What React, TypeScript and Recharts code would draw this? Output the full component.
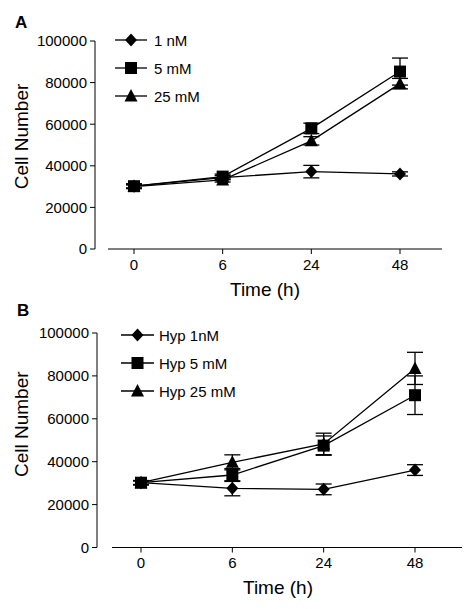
import { LineChart, Line, XAxis, YAxis, ErrorBar, Legend } from 'recharts';

const timeLabels = ['0', '6', '24', '48'];
const yTicks = [0, 20000, 40000, 60000, 80000, 100000];

// panel A
const seriesNamesA = ['1 nM', '5 mM', '25 mM'];
const aLow = [30200, 34300, 37200, 36100];
const aLowErr = [800, 1000, 3000, 1000];
const aMid = [30200, 34800, 58000, 85300];
const aMidErr = [1200, 1200, 2500, 6500];
const aHigh = [30000, 33200, 52000, 79500];
const aHighErr = [800, 1000, 2000, 2500];

// panel B
const seriesNamesB = ['Hyp 1nM', 'Hyp 5 mM', 'Hyp 25 mM'];
const bLow = [30200, 27600, 27100, 36100];
const bLowErr = [800, 3500, 2500, 2500];
const bMid = [30200, 33800, 47500, 71000];
const bMidErr = [1000, 3000, 4500, 9000];
const bHigh = [30200, 39700, 48300, 83500];
const bHighErr = [1000, 3500, 5000, 7500];

const FONT = '"Liberation Sans", Arial, sans-serif';
const SHAPES = ['diamond', 'square', 'triangle'];

const buildRows = (low: number[], lowErr: number[], mid: number[], midErr: number[], high: number[], highErr: number[]) =>
  timeLabels.map((t, i) => ({
    time: t,
    s0: low[i], e0: lowErr[i],
    s1: mid[i], e1: midErr[i],
    s2: high[i], e2: highErr[i],
  }));

const dataA = buildRows(aLow, aLowErr, aMid, aMidErr, aHigh, aHighErr);
const dataB = buildRows(bLow, bLowErr, bMid, bMidErr, bHigh, bHighErr);

const marker = (shape: string, cx: number, cy: number, key?: string) => {
  if (shape === 'diamond') {
    return <path key={key} d={`M${cx},${cy - 6.5}L${cx + 6},${cy}L${cx},${cy + 6.5}L${cx - 6},${cy}Z`} fill="#000" />;
  }
  if (shape === 'square') {
    return <rect key={key} x={cx - 6} y={cy - 6} width={12} height={12} fill="#000" />;
  }
  return <path key={key} d={`M${cx},${cy - 7}L${cx + 6.5},${cy + 5.5}L${cx - 6.5},${cy + 5.5}Z`} fill="#000" />;
};

const dotFor = (shape: string) => (props: any) => {
  const { cx, cy, index } = props;
  if (cx == null || cy == null) return <g key={`d-${index}`} />;
  return marker(shape, cx, cy, `${shape}-${index}`);
};

// legend drawn in series order from the names list
const renderLegend = (names: string[], lineWidth: number, gap: number) => () => (
  <div style={{ fontFamily: FONT, fontSize: 15, color: '#000' }}>
    {names.map((name, i) => (
      <div key={name} style={{ display: 'flex', alignItems: 'center', height: 28 }}>
        <svg width={lineWidth} height={16}>
          <line x1={0} y1={8} x2={lineWidth} y2={8} stroke="#000" strokeWidth={1.3} />
          {marker(SHAPES[i], lineWidth / 2, 8)}
        </svg>
        <span style={{ marginLeft: gap, whiteSpace: 'nowrap' }}>{name}</span>
      </div>
    ))}
  </div>
);

interface PanelProps {
  data: any[];
  names: string[];
  height: number;
  margin: { top: number; right: number; bottom: number };
  gap: number;
  yWidth: number;
  padding: { left: number; right: number };
  legendPos: { left: number; top: number };
  legendLine: number;
  legendGap: number;
  yLabelShift: number;
  xLabelShift: number;
}

// the y axis sits a little left of where the x axis line begins
const Panel = (p: PanelProps) => {
  const shift = `translate(${-p.gap} 0)`;
  return (
    <LineChart
      width={469}
      height={p.height}
      data={p.data}
      margin={{ top: p.margin.top, right: p.margin.right, bottom: p.margin.bottom, left: 0 }}
    >
      <YAxis
        width={p.yWidth + p.gap}
        domain={[0, 100000]}
        ticks={yTicks}
        interval={0}
        tickSize={5}
        tickMargin={3}
        stroke="#000"
        axisLine={{ transform: shift }}
        tickLine={{ transform: shift }}
        tick={{ fill: '#000', fontSize: 15, fontFamily: FONT, dx: -p.gap }}
        label={({ viewBox }: any) => (
          <text
            x={viewBox.x + 21}
            y={viewBox.y + viewBox.height / 2 + p.yLabelShift}
            transform={`rotate(-90, ${viewBox.x + 21}, ${viewBox.y + viewBox.height / 2 + p.yLabelShift})`}
            textAnchor="middle"
            dominantBaseline="central"
            fontSize={19}
            fontFamily={FONT}
            fill="#000"
          >
            Cell Number
          </text>
        )}
      />
      <XAxis
        dataKey="time"
        padding={p.padding}
        height={51}
        tickSize={5}
        tickMargin={5}
        stroke="#000"
        tick={{ fill: '#000', fontSize: 15, fontFamily: FONT }}
        label={({ viewBox }: any) => (
          <text
            x={viewBox.x + viewBox.width / 2 + p.xLabelShift}
            y={viewBox.y + 40}
            textAnchor="middle"
            dominantBaseline="central"
            fontSize={19}
            fontFamily={FONT}
            fill="#000"
          >
            Time (h)
          </text>
        )}
      />
      <Legend
        layout="horizontal"
        align="center"
        verticalAlign="middle"
        wrapperStyle={{ left: p.legendPos.left, top: p.legendPos.top, width: 'auto' }}
        content={renderLegend(p.names, p.legendLine, p.legendGap)}
      />
      {['s0', 's1', 's2'].map((key, i) => (
        <Line
          key={key}
          type="linear"
          dataKey={key}
          name={p.names[i]}
          stroke="#000"
          strokeWidth={1.3}
          dot={dotFor(SHAPES[i])}
          activeDot={false}
          isAnimationActive={false}
        >
          <ErrorBar dataKey={`e${i}`} width={8} stroke="#000" strokeWidth={1.3} direction="y" />
        </Line>
      ))}
    </LineChart>
  );
};

export default function App() {
  return (
    <div style={{ position: 'absolute', left: 0, top: 0, width: 469, height: 609, background: '#fff' }}>
      <div style={{ position: 'absolute', left: 15, top: 13, fontFamily: FONT, fontWeight: 'bold', fontSize: 17 }}>A</div>
      <div style={{ position: 'absolute', left: 0, top: 0 }}>
        <Panel
          data={dataA}
          names={seriesNamesA}
          height={300}
          margin={{ top: 41, right: 27, bottom: 0 }}
          gap={13}
          yWidth={95}
          padding={{ left: 26, right: 42 }}
          legendPos={{ left: 115, top: 26 }}
          legendLine={32}
          legendGap={7}
          yLabelShift={-8.5}
          xLabelShift={-10}
        />
      </div>
      <div style={{ position: 'absolute', left: 17, top: 301, fontFamily: FONT, fontWeight: 'bold', fontSize: 17 }}>B</div>
      <div style={{ position: 'absolute', left: 0, top: 300 }}>
        <Panel
          data={dataB}
          names={seriesNamesB}
          height={309}
          margin={{ top: 33, right: 7, bottom: 10.5 }}
          gap={15}
          yWidth={97}
          padding={{ left: 29, right: 47 }}
          legendPos={{ left: 121, top: 21 }}
          legendLine={33}
          legendGap={5}
          yLabelShift={-16}
          xLabelShift={-9}
        />
      </div>
    </div>
  );
}
